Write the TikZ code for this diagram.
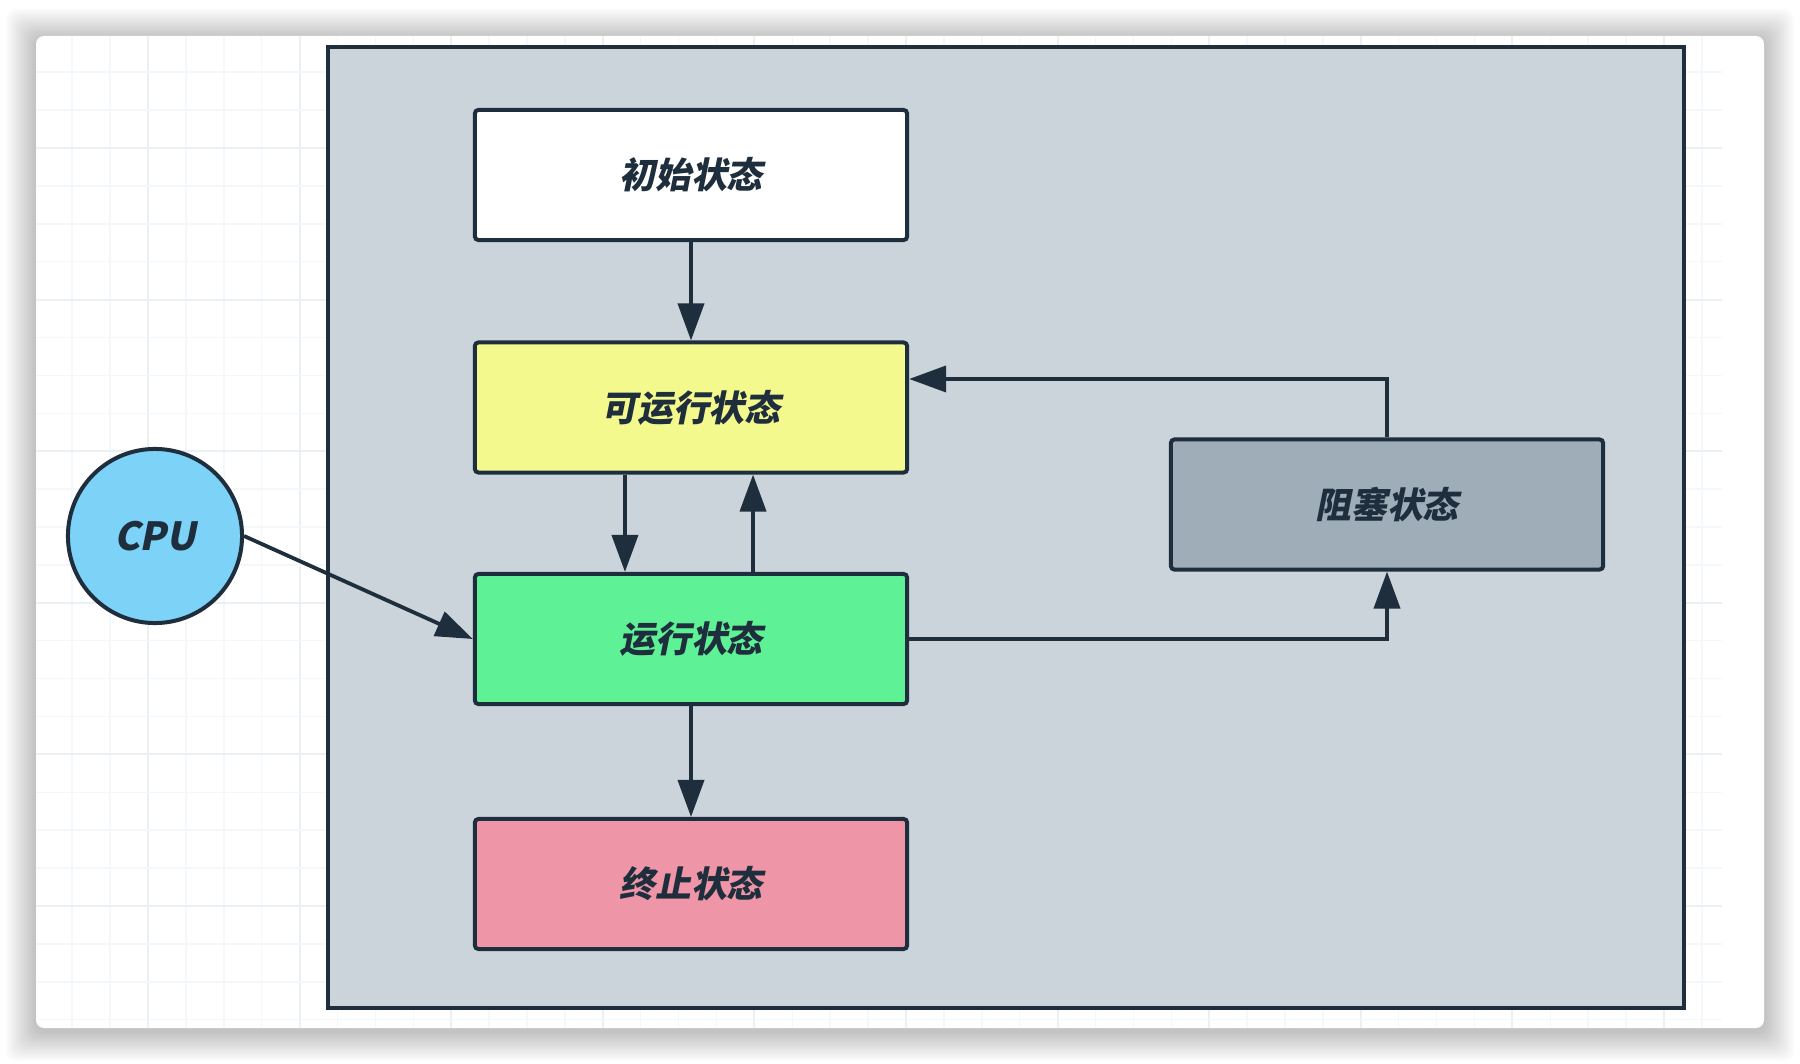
\documentclass[tikz,border=0pt]{standalone}
\usepackage{fontspec}
\newfontfamily\cjk[FakeSlant=0.2]{Noto Sans CJK SC}
\usetikzlibrary{arrows.meta}

\definecolor{rahmen}{HTML}{1F2E3C}
\definecolor{flaeche}{HTML}{CBD4DB}
\definecolor{gelb}{HTML}{F4F98E}
\definecolor{gruen}{HTML}{5FF196}
\definecolor{rosa}{HTML}{EE96A8}
\definecolor{grau}{HTML}{9EADB8}
\definecolor{blau}{HTML}{7DD3F7}
\definecolor{gitter}{HTML}{F5F8FA}
\definecolor{gitterdick}{HTML}{EAF0F4}

\tikzset{
  zustand/.style={draw=rahmen, line width=0.04cm, rounded corners=1pt,
    minimum width=4.32cm, minimum height=1.3cm, inner sep=0pt, text=rahmen,
    font=\cjk\bfseries\fontsize{10.2pt}{12pt}\selectfont},
  pfeil/.style={draw=rahmen, line width=0.038cm, -{Triangle[length=0.37cm,width=0.26cm]}}
}

\begin{document}
\begin{tikzpicture}[x=0.01cm, y=-0.01cm]
  \useasboundingbox (0,0) rectangle (1800,1064);
  \fill[white] (0,0) rectangle (1800,1064);

  % Schatten der Karte
  \foreach \i in {1,...,15}
    \fill[black, opacity=0.014, rounded corners=0.1cm]
      (36-2*\i,36-2*\i+3) rectangle (1764+2*\i,1028+2*\i+3);

  % Karte
  \fill[white, rounded corners=0.08cm] (36,36) rectangle (1764,1028);

  % Gitter
  \begin{scope}
    \clip (36,36) rectangle (1722,1028);
    \foreach \k in {-2,...,41} {
      \pgfmathtruncatemacro{\m}{mod(\k+8,4)}
      \ifnum\m=0
        \draw[gitterdick, line width=0.02cm] (148+\k*37.9,36) -- (148+\k*37.9,1028);
      \else
        \draw[gitter, line width=0.015cm] (148+\k*37.9,36) -- (148+\k*37.9,1028);
      \fi
    }
    \foreach \k in {-2,...,23} {
      \pgfmathtruncatemacro{\m}{mod(\k+8,4)}
      \ifnum\m=0
        \draw[gitterdick, line width=0.02cm] (36,148+\k*37.9) -- (1722,148+\k*37.9);
      \else
        \draw[gitter, line width=0.015cm] (36,148+\k*37.9) -- (1722,148+\k*37.9);
      \fi
    }
  \end{scope}

  % Rahmen
  \draw[rahmen, fill=flaeche, line width=0.045cm] (328,47) rectangle (1684,1008);

  % Zustaende
  \node[zustand, fill=white] (init) at (691,175) {初始状态};
  \node[zustand, fill=gelb] (ready) at (691,407.5) {可运行状态};
  \node[zustand, fill=gruen] (run) at (691,639) {运行状态};
  \node[zustand, fill=rosa] (end) at (691,884) {终止状态};
  \node[zustand, fill=grau] (block) at (1387,504.5) {阻塞状态};

  % CPU
  \node[circle, draw=rahmen, fill=blau, line width=0.04cm, minimum size=1.74cm,
    text=rahmen, font=\cjk\bfseries\fontsize{11pt}{13pt}\selectfont] (cpu) at (155,536) {CPU};

  % Pfeile
  \draw[pfeil] (init) -- (ready);
  \draw[pfeil] ([xshift=-0.66cm]ready.south) -- ([xshift=-0.66cm]run.north);
  \draw[pfeil] ([xshift=0.62cm]run.north) -- ([xshift=0.62cm]ready.south);
  \draw[pfeil] (run) -- (end);
  \draw[pfeil] (cpu.east) -- (run.west);
  \draw[pfeil] (run.east) -| (block.south);
  \draw[pfeil] (block.north) |- ([yshift=0.285cm]ready.east);
\end{tikzpicture}
\end{document}
